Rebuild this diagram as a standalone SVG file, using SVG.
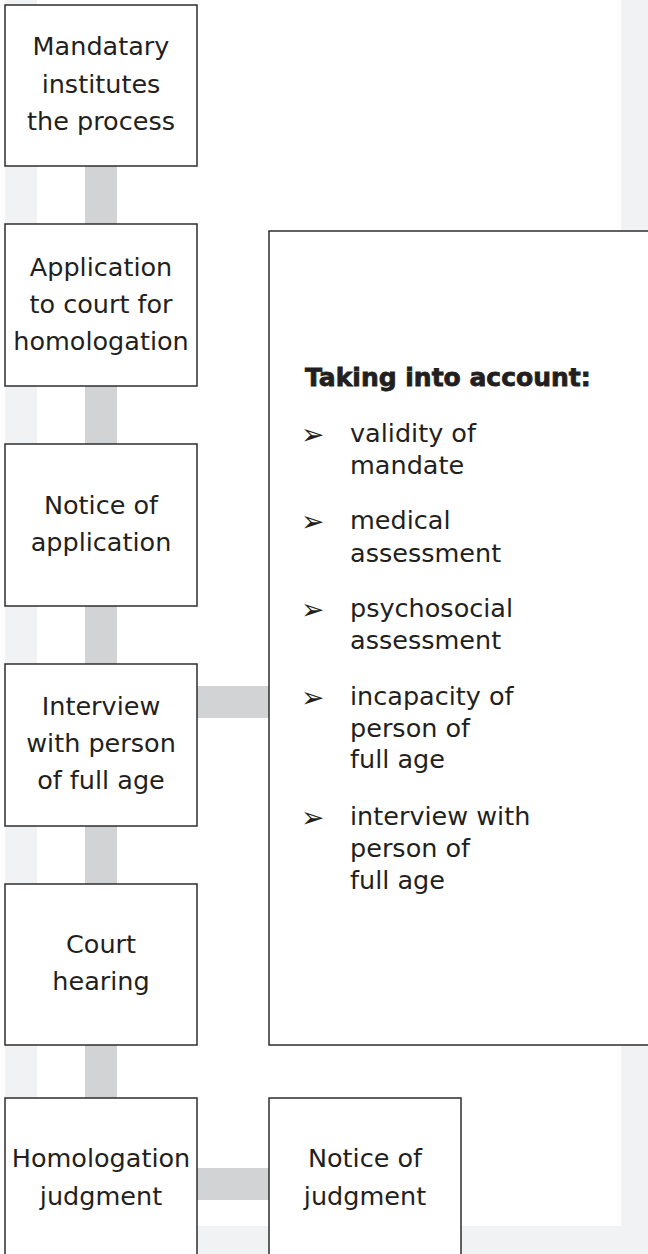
<svg xmlns="http://www.w3.org/2000/svg" width="648" height="1254" viewBox="0 0 648 1254">
<style>
.frame{fill:#f1f2f3}
.conn{fill:#d1d3d4}
.box{fill:#ffffff;stroke:#2e2e2e;stroke-width:1.5}
.t{font-family:"DejaVu Sans","Liberation Sans",sans-serif;font-size:25.5px;fill:#231f20;text-anchor:middle}
.li{font-family:"DejaVu Sans","Liberation Sans",sans-serif;font-size:25.5px;fill:#231f20}
.bul{font-family:"DejaVu Sans",sans-serif;font-size:28px;fill:#231f20}
.h{font-family:"DejaVu Sans","Liberation Sans",sans-serif;font-size:25px;font-weight:bold;fill:#231f20;stroke:#231f20;stroke-width:0.8}
</style>
<rect x="0" y="0" width="648" height="1254" fill="#ffffff"/>
<g id="frame">
<rect class="frame" x="5" y="0" width="32" height="1254"/>
<rect class="frame" x="621" y="0" width="27" height="1254"/>
<rect class="frame" x="5" y="1226" width="643" height="28"/>
</g>
<g id="connectors">
<rect class="conn" x="85" y="166" width="32" height="58"/>
<rect class="conn" x="85" y="386" width="32" height="58"/>
<rect class="conn" x="85" y="606" width="32" height="58"/>
<rect class="conn" x="85" y="826" width="32" height="58"/>
<rect class="conn" x="85" y="1045" width="32" height="53"/>
<rect class="conn" x="197" y="686" width="72" height="32"/>
<rect class="conn" x="197" y="1168" width="72" height="32"/>
</g>
<g id="n1">
<rect class="box" x="5" y="5" width="192" height="161"/>
<text class="t" x="101" y="55">Mandatary</text>
<text class="t" x="101" y="93">institutes</text>
<text class="t" x="101" y="130">the process</text>
</g>
<g id="n2">
<rect class="box" x="5" y="224" width="192" height="162"/>
<text class="t" x="101" y="276">Application</text>
<text class="t" x="101" y="313">to court for</text>
<text class="t" x="101" y="350">homologation</text>
</g>
<g id="n3">
<rect class="box" x="5" y="444" width="192" height="162"/>
<text class="t" x="101" y="514">Notice of</text>
<text class="t" x="101" y="551">application</text>
</g>
<g id="n4">
<rect class="box" x="5" y="664" width="192" height="162"/>
<text class="t" x="101" y="715">Interview</text>
<text class="t" x="101" y="752">with person</text>
<text class="t" x="101" y="789">of full age</text>
</g>
<g id="n5">
<rect class="box" x="5" y="884" width="192" height="161"/>
<text class="t" x="101" y="953">Court</text>
<text class="t" x="101" y="990">hearing</text>
</g>
<g id="n6">
<rect class="box" x="5" y="1098" width="192" height="170"/>
<text class="t" x="101" y="1167">Homologation</text>
<text class="t" x="101" y="1205">judgment</text>
</g>
<g id="n7">
<rect class="box" x="269" y="1098" width="192" height="170"/>
<text class="t" x="365" y="1167">Notice of</text>
<text class="t" x="365" y="1205">judgment</text>
</g>
<g id="n8">
<rect class="box" x="269" y="231" width="400" height="814"/>
<text class="h" x="305" y="386">Taking into account:</text>
<text class="bul" x="301" y="444">➢</text>
<text class="li" x="350" y="442">validity of</text>
<text class="li" x="350" y="474">mandate</text>
<text class="bul" x="301" y="531">➢</text>
<text class="li" x="350" y="529">medical</text>
<text class="li" x="350" y="562">assessment</text>
<text class="bul" x="301" y="619">➢</text>
<text class="li" x="350" y="617">psychosocial</text>
<text class="li" x="350" y="649">assessment</text>
<text class="bul" x="301" y="707">➢</text>
<text class="li" x="350" y="705">incapacity of</text>
<text class="li" x="350" y="737">person of</text>
<text class="li" x="350" y="768">full age</text>
<text class="bul" x="301" y="827">➢</text>
<text class="li" x="350" y="825">interview with</text>
<text class="li" x="350" y="857">person of</text>
<text class="li" x="350" y="889">full age</text>
</g>
</svg>
